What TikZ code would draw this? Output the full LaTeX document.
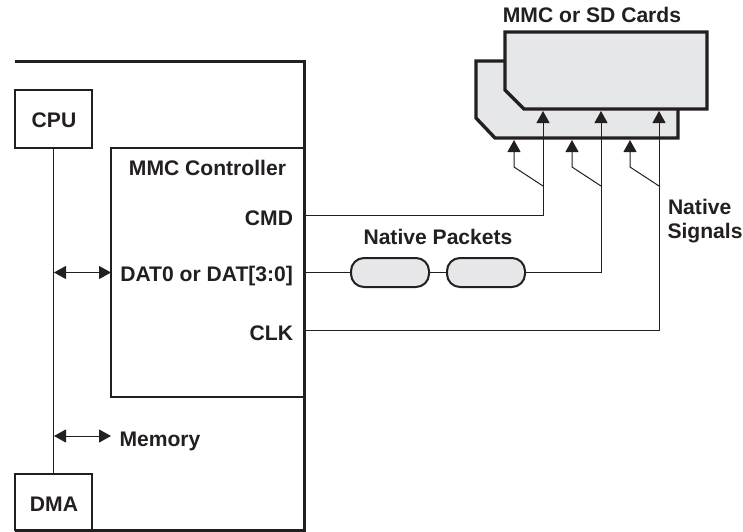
\documentclass[tikz,border=0pt]{standalone}
\usepackage{fontspec}
\setmainfont{Liberation Sans}
\usetikzlibrary{arrows.meta}
\definecolor{ink}{HTML}{231F20}
\definecolor{cardfill}{HTML}{E6E7E8}
\tikzset{
  x=1pt,y=-1pt,
  label text/.style={font=\fontsize{21.1}{25}\selectfont\bfseries,text=ink,inner sep=0pt,outer sep=0pt},
  thick frame/.style={draw=ink,line width=3pt,line join=miter},
  block/.style={draw=ink,line width=2pt,fill=white,inner sep=0pt,outer sep=0pt},
  cardshape/.style={draw=ink,line width=3.4pt,fill=cardfill,line join=miter},
  pill/.style={draw=ink,line width=2pt,fill=cardfill,rectangle,rounded corners=13pt,minimum width=78pt,minimum height=29pt,inner sep=0pt,outer sep=0pt},
  wire/.style={draw=ink,line width=1pt},
  sig/.style={wire,-{Triangle[length=12pt,width=13pt]}},
  bidir/.style={wire,{Triangle[length=12pt,width=13pt]}-{Triangle[length=12pt,width=13pt]}},
}
\begin{document}
\begin{tikzpicture}
\useasboundingbox (0,0) rectangle (743,531);
% outer device frame
\coordinate (frameTL) at (15,61);
\coordinate (frameTR) at (304,61);
\coordinate (frameBR) at (304,530);
\coordinate (frameBL) at (15,530);
\draw[thick frame] (frameTL) -- (frameTR) -- (frameBR) -- (frameBL);
% cards
\draw[cardshape] (476,61) -- (678,61) -- (678,138) -- (495,138) -- (476,118) -- cycle;
\draw[cardshape] (505,32) -- (707,32) -- (707,109) -- (524,109) -- (505,90) -- cycle;
% blocks
\node[block,minimum width=193pt,minimum height=249pt] (mmc) at (207.5,272.5) {};
\node[block,minimum width=77pt,minimum height=58pt] (cpu) at (53.5,119) {};
\node[block,minimum width=77pt,minimum height=56pt] (dma) at (53.5,502) {};
\node[label text,anchor=base] (cpulabel) at (54,127) {CPU};
\node[label text,anchor=base] (dmalabel) at (54,511) {DMA};
\node[label text,anchor=base] (title) at (207.5,175) {MMC Controller};
\node[label text,anchor=base east] (cmd) at (293,225) {CMD};
\node[label text,anchor=base east] (dat) at (293,281.5) {DAT0 or DAT[3:0]};
\node[label text,anchor=base east] (clk) at (293,340) {CLK};
\node[label text,anchor=base west] (memlabel) at (119.5,446) {Memory};
\node[label text,anchor=base] (packets) at (438,244) {Native Packets};
\node[label text,anchor=base] (cards) at (592,22.5) {MMC or SD Cards};
\node[label text,anchor=base west] (nat) at (668,214.5) {Native};
\node[label text,anchor=base west] (signals) at (667.5,238.5) {Signals};
% packets
\node[pill] (p1) at (390,272.5) {};
\node[pill] (p2) at (486,272.5) {};
% bus
\draw[wire] (cpu.south) -- (dma.north);
\coordinate (busdat) at (54,272.5);
\coordinate (busmem) at (54,436);
\coordinate (memend) at (111,436);
\draw[bidir] (busdat) -- (mmc.west |- busdat);
\draw[bidir] (busmem) -- (memend);
% signals
\coordinate (cmdpin) at (304,215);
\coordinate (datpin) at (304,272.5);
\coordinate (clkpin) at (304,330);
\coordinate (frontA) at (543,111);
\coordinate (frontB) at (601,111);
\coordinate (frontC) at (659,111);
\coordinate (backA) at (514,140);
\coordinate (backB) at (572,140);
\coordinate (backC) at (630,140);
\coordinate (tapA) at (543,186);
\coordinate (tapB) at (601,186);
\coordinate (tapC) at (659,186);
\draw[sig] (cmdpin) -| (frontA);
\draw[wire] (datpin) -- (p1.west);
\draw[wire] (p1.east) -- (p2.west);
\draw[sig] (p2.east) -| (frontB);
\draw[sig] (clkpin) -| (frontC);
\draw[sig] (tapA) -- (514,167) -- (backA);
\draw[sig] (tapB) -- (572,167) -- (backB);
\draw[sig] (tapC) -- (630,167) -- (backC);
\end{tikzpicture}
\end{document}
